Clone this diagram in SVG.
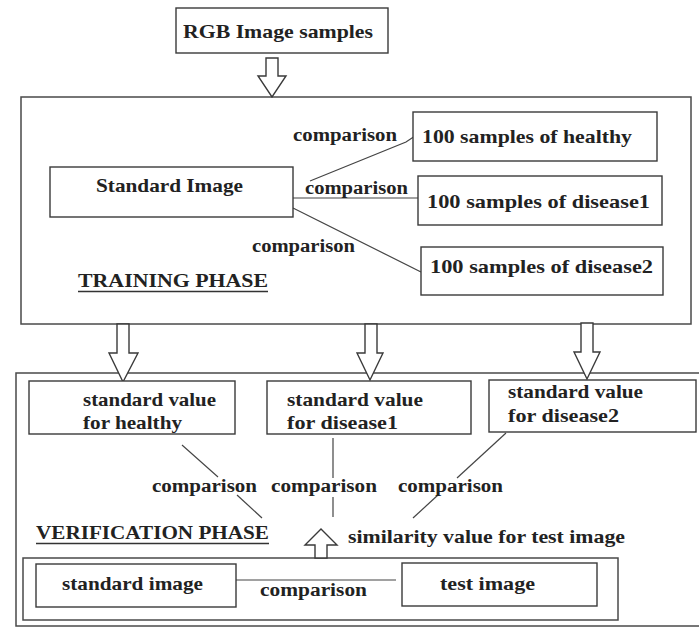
<svg xmlns="http://www.w3.org/2000/svg" width="699" height="628" viewBox="0 0 699 628">
<style>
.bx{fill:#fff;stroke:#3a3a3a;stroke-width:1.4}
.pn{fill:none;stroke:#4a4a4a;stroke-width:1.5}
.ln{fill:none;stroke:#444;stroke-width:1.2}
.ar{fill:#fff;stroke:#3a3a3a;stroke-width:1.4;stroke-linejoin:miter}
text{font-family:"Liberation Serif","Times New Roman",serif;font-weight:bold;font-size:19px;fill:#222}
.sm{font-size:18px}
.ul{stroke:#333;stroke-width:1.6}
</style>
<rect width="699" height="628" fill="#fff"/>

<g id="panels">
<rect class="pn" x="21" y="97" width="670" height="227"/>
<rect class="pn" x="16" y="373" width="690" height="253"/>
<rect class="pn" x="23" y="558" width="595" height="62"/>
</g>

<g id="connectors">
<path class="ar" d="M266,58 H278 V76 H286 L272,97 L258,76 H266 Z"/>
<path class="ar" d="M117,324 H129 V353 H138 L123,382 L109,353 H117 Z"/>
<path class="ar" d="M365,324 H377 V353 H383 L370,380 L357,353 H365 Z"/>
<path class="ar" d="M581,323 H593 V352 H600 L587,379 L574,352 H581 Z"/>
<path class="ar" d="M315,558 H327 V545 H337 L321,529 L305,545 H315 Z"/>
<polyline class="ln" points="310,181 406,142 415,136"/>
<line class="ln" x1="293" y1="198" x2="418" y2="198"/>
<line class="ln" x1="293" y1="208" x2="421" y2="272"/>
<line class="ln" x1="182" y1="445" x2="218" y2="477"/>
<line class="ln" x1="237" y1="495" x2="262" y2="518"/>
<line class="ln" x1="333" y1="438" x2="333" y2="478"/>
<line class="ln" x1="333" y1="497" x2="333" y2="517"/>
<line class="ln" x1="506" y1="433" x2="457" y2="478"/>
<line class="ln" x1="438" y1="495" x2="413" y2="518"/>
<line class="ln" x1="236" y1="580" x2="396" y2="580"/>
</g>

<g id="rgb">
<rect class="bx" x="176" y="8" width="212" height="45"/>
<text x="183" y="38" textLength="190" lengthAdjust="spacingAndGlyphs">RGB Image samples</text>
</g>

<g id="standard-image">
<rect class="bx" x="50" y="167" width="243" height="50"/>
<text x="96" y="192" textLength="147" lengthAdjust="spacingAndGlyphs">Standard Image</text>
</g>

<g id="healthy-samples">
<rect class="bx" x="413" y="112" width="244" height="49"/>
<text x="422" y="143" textLength="210" lengthAdjust="spacingAndGlyphs">100 samples of healthy</text>
</g>

<g id="disease1-samples">
<rect class="bx" x="418" y="176" width="244" height="49"/>
<text x="427" y="208" textLength="223" lengthAdjust="spacingAndGlyphs">100 samples of disease1</text>
</g>

<g id="disease2-samples">
<rect class="bx" x="421" y="247" width="242" height="48"/>
<text x="430" y="273" textLength="223" lengthAdjust="spacingAndGlyphs">100 samples of disease2</text>
</g>

<g id="training-labels">
<text class="sm" x="293" y="141" textLength="104" lengthAdjust="spacingAndGlyphs">comparison</text>
<text class="sm" x="305" y="194" textLength="103" lengthAdjust="spacingAndGlyphs">comparison</text>
<text class="sm" x="252" y="252" textLength="103" lengthAdjust="spacingAndGlyphs">comparison</text>
<text x="78" y="287" textLength="190" lengthAdjust="spacingAndGlyphs">TRAINING PHASE</text>
<line class="ul" x1="78" y1="291.5" x2="268" y2="291.5"/>
</g>

<g id="value-healthy">
<rect class="bx" x="29" y="381" width="206" height="53"/>
<text x="83" y="406" textLength="133" lengthAdjust="spacingAndGlyphs">standard value</text>
<text x="83" y="429" textLength="99" lengthAdjust="spacingAndGlyphs">for healthy</text>
</g>

<g id="value-disease1">
<rect class="bx" x="267" y="381" width="204" height="53"/>
<text x="287" y="406" textLength="136" lengthAdjust="spacingAndGlyphs">standard value</text>
<text x="287" y="429" textLength="111" lengthAdjust="spacingAndGlyphs">for disease1</text>
</g>

<g id="value-disease2">
<rect class="bx" x="489" y="380" width="207" height="52"/>
<text x="508" y="398" textLength="135" lengthAdjust="spacingAndGlyphs">standard value</text>
<text x="508" y="422" textLength="111" lengthAdjust="spacingAndGlyphs">for disease2</text>
</g>

<g id="verification-labels">
<text class="sm" x="152" y="492" textLength="105" lengthAdjust="spacingAndGlyphs">comparison</text>
<text class="sm" x="271" y="492" textLength="106" lengthAdjust="spacingAndGlyphs">comparison</text>
<text class="sm" x="398" y="492" textLength="105" lengthAdjust="spacingAndGlyphs">comparison</text>
<text x="36" y="539" textLength="233" lengthAdjust="spacingAndGlyphs">VERIFICATION PHASE</text>
<line class="ul" x1="36" y1="543.5" x2="269" y2="543.5"/>
<text x="348" y="543" textLength="277" lengthAdjust="spacingAndGlyphs">similarity value for test image</text>
<text class="sm" x="260" y="596" textLength="107" lengthAdjust="spacingAndGlyphs">comparison</text>
</g>

<g id="standard-image-test">
<rect class="bx" x="36" y="564" width="200" height="43"/>
<text x="62" y="590" textLength="141" lengthAdjust="spacingAndGlyphs">standard image</text>
</g>

<g id="test-image">
<rect class="bx" x="402" y="563" width="195" height="43"/>
<text x="440" y="590" textLength="95" lengthAdjust="spacingAndGlyphs">test image</text>
</g>
</svg>
